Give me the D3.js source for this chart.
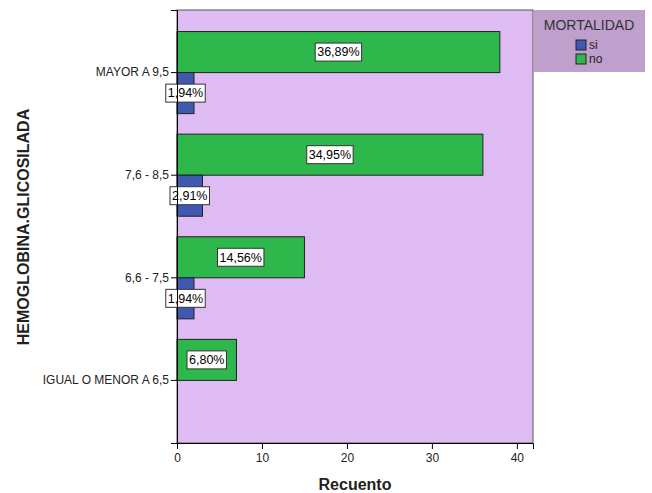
<!DOCTYPE html>
<html><head><meta charset="utf-8">
<script src="https://cdn.jsdelivr.net/npm/d3@7"></script>
<style>body{margin:0;background:#fff;font-family:"Liberation Sans",Arial,sans-serif}</style>
</head><body><svg id="c" width="652" height="493"></svg>
<script>
const categories = ["MAYOR A 9,5", "7,6 - 8,5", "6,6 - 7,5", "IGUAL O MENOR A 6,5"];
const seriesNames = ["no", "si"];
const legendOrder = ["si", "no"];
const noValues = [38, 36, 15, 7];
const siValues = [2, 3, 2, 0];
const noLabels = ["36,89%", "34,95%", "14,56%", "6,80%"];
const siLabels = ["1,94%", "2,91%", "1,94%", ""];
const xTicks = [0, 10, 20, 30, 40];
const colors = {si: "#3f59b0", no: "#2eb84c"};

const svg = d3.select("#c");
const L = 177, R = 533, T = 10, B = 443;
const x = d3.scaleLinear().domain([0, 41.9]).range([L, R]);
const y = d3.scaleBand().domain(categories).range([T, B]).paddingInner(0.2).paddingOuter(0.21);
const sub = d3.scaleBand().domain(seriesNames).range([0, y.bandwidth()]);

svg.append("rect").attr("x", L).attr("y", T).attr("width", R - L).attr("height", B - T)
  .attr("fill", "#dfbbf3").attr("stroke", "#555").attr("stroke-width", 1);

const rows = categories.map((c, i) => ({c, no: noValues[i], si: siValues[i], nl: noLabels[i], sl: siLabels[i]}));
const g = svg.append("g");
rows.forEach(d => {
  seriesNames.forEach(s => {
    const v = d[s];
    if (v <= 0) return;
    g.append("rect").attr("x", x(0)).attr("y", y(d.c) + sub(s))
      .attr("width", x(v) - x(0)).attr("height", sub.bandwidth())
      .attr("fill", colors[s]).attr("stroke", "#222").attr("stroke-width", 1);
  });
});
// labels
rows.forEach(d => {
  [["no", d.nl], ["si", d.sl]].forEach(([s, lab]) => {
    if (!lab) return;
    const cx = x(d[s] / 2), cy = y(d.c) + sub(s) + sub.bandwidth() / 2;
    const t = svg.append("text").attr("x", cx).attr("y", cy).attr("dy", "0.35em")
      .attr("text-anchor", "middle").attr("font-size", 12.5).attr("fill", "#000").text(lab);
    const bb = t.node().getBBox();
    svg.insert("rect", () => t.node()).attr("x", bb.x - 2).attr("y", cy - 9)
      .attr("width", bb.width + 4).attr("height", 18).attr("fill", "#fff").attr("stroke", "#333");
  });
});

// axes
const xa = svg.append("g").attr("transform", `translate(0,${B})`)
  .call(d3.axisBottom(x).tickValues(xTicks).tickSize(6).tickPadding(4));
xa.select(".domain").attr("stroke", "#000");
xa.selectAll("text").attr("font-size", 12).attr("font-family", "Liberation Sans, Arial").attr("fill", "#222");
const ya = svg.append("g").attr("transform", `translate(${L},0)`)
  .call(d3.axisLeft(y).tickSize(6).tickPadding(2).tickValues(categories));
ya.selectAll(".tick").attr("transform", d => `translate(0,${y(d) + sub.bandwidth()})`);
ya.select(".domain").attr("stroke", "#000");
ya.selectAll("text").attr("font-size", 12).attr("font-family", "Liberation Sans, Arial").attr("fill", "#222");

svg.append("text").attr("x", 355).attr("y", 490).attr("text-anchor", "middle")
  .attr("font-size", 16).attr("font-weight", "bold").attr("fill", "#222").text("Recuento");
svg.append("text").attr("transform", "translate(29,227) rotate(-90)").attr("text-anchor", "middle")
  .attr("font-size", 16).attr("font-weight", "bold").attr("fill", "#222").text("HEMOGLOBINA.GLICOSILADA");

// legend
const lg = svg.append("g");
lg.append("rect").attr("x", 534).attr("y", 10).attr("width", 111).attr("height", 62).attr("fill", "#bfa0cd");
lg.append("text").attr("x", 589).attr("y", 30).attr("text-anchor", "middle").attr("font-size", 14).attr("fill", "#333").text("MORTALIDAD");
legendOrder.forEach((s, i) => {
  lg.append("rect").attr("x", 576).attr("y", 40 + i * 14).attr("width", 10).attr("height", 10)
    .attr("fill", colors[s]).attr("stroke", "#222");
  lg.append("text").attr("x", 589).attr("y", 49 + i * 14).attr("font-size", 12).attr("fill", "#222").text(s);
});
</script></body></html>
